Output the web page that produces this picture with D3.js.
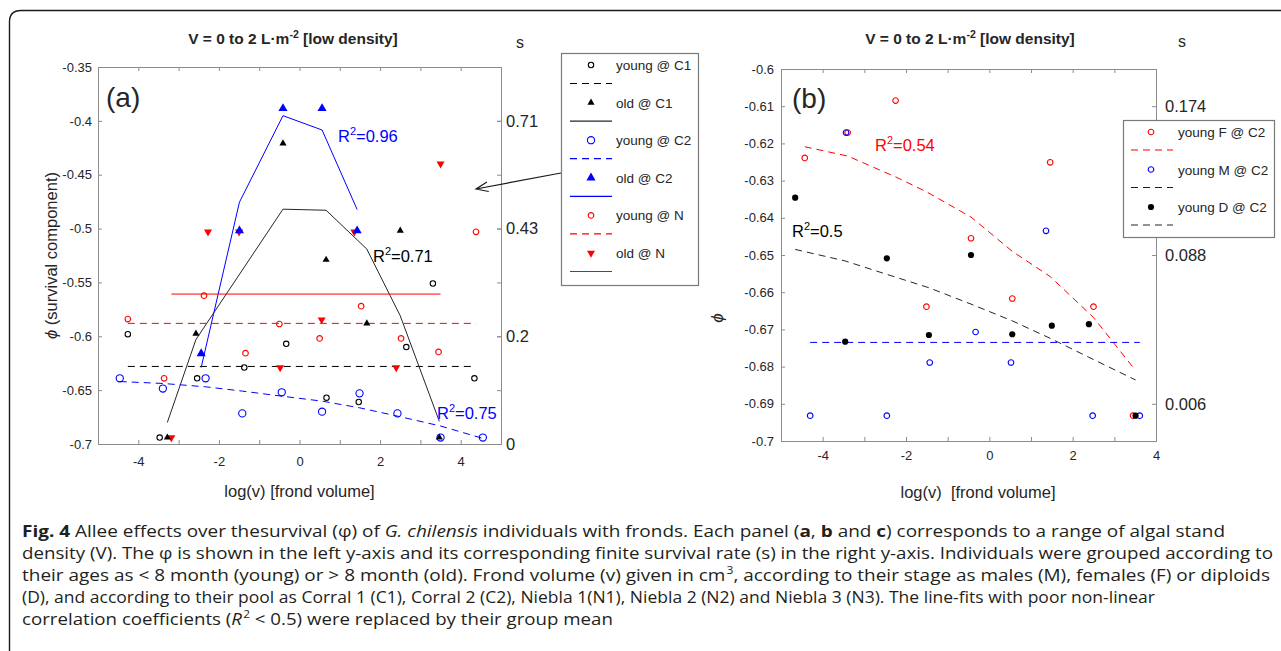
<!DOCTYPE html>
<html>
<head>
<meta charset="utf-8">
<script src="https://cdn.jsdelivr.net/npm/d3@7"></script>
<style>
  body { margin: 0; background: #fff; }
  svg text { font-family: "Liberation Sans", Arial, Helvetica, sans-serif; fill: #262626; }
  .axis path.domain { display: none; }
  .axis line { stroke: #8c8c8c; }
  .axis text { font-size: 13px; fill: #262626; }
  .saxis text { font-size: 16.5px; }
  svg text.caption { font-family: "Open Sans", "Noto Sans", sans-serif; fill: #231f20; }
</style>
</head>
<body>
<svg id="fig" width="1281" height="651"></svg>
<script>
  // ---- panel (a): V = 0 to 2, pools C1, C2, N ----
  const xTicksA = [-4, -3, -2, -1, 0, 1, 2, 3, 4];
  const xTickLabelsA = ["-4", "", "-2", "", "0", "", "2", "", "4"];
  const yTicksA = [-0.7, -0.65, -0.6, -0.55, -0.5, -0.45, -0.4, -0.35];
  const yTickLabelsA = ["-0.7", "-0.65", "-0.6", "-0.55", "-0.5", "-0.45", "-0.4", "-0.35"];
  const sTicksA = [-0.4, -0.5, -0.6, -0.7];
  const sLabelsA = ["0.71", "0.43", "0.2", "0"];

  const youngC1X = [-4.26, -3.47, -2.54, -1.37, -0.33, 0.67, 1.47, 2.65, 3.31, 4.34];
  const youngC1Phi = [-0.598, -0.694, -0.639, -0.629, -0.607, -0.657, -0.661, -0.610, -0.551, -0.639];
  const youngC1Mean = -0.628;

  const oldC1X = [-3.28, -2.57, -0.41, 0.66, 1.67, 2.50, 3.47];
  const oldC1Phi = [-0.694, -0.5975, -0.421, -0.529, -0.588, -0.502, -0.694];
  const oldC1Fit = [-0.680, -0.603, -0.482, -0.483, -0.519, -0.581, -0.679];

  const youngC2X = [-4.46, -3.39, -2.33, -1.42, -0.44, 0.56, 1.49, 2.43, 3.50, 4.55];
  const youngC2Phi = [-0.639, -0.6485, -0.639, -0.6716, -0.652, -0.670, -0.653, -0.6716, -0.694, -0.694];
  const youngC2Fit = [-0.642, -0.6438, -0.6469, -0.6509, -0.6556, -0.6602, -0.6664, -0.6741, -0.6833, -0.6948];

  const oldC2X = [-2.44, -1.49, -0.41, 0.56, 1.43];
  const oldC2Phi = [-0.616, -0.502, -0.3885, -0.3885, -0.502];
  const oldC2Fit = [-0.629, -0.4755, -0.3952, -0.4085, -0.4823];

  const youngNX = [-4.26, -3.36, -2.37, -1.34, -0.50, 0.50, 1.53, 2.52, 3.45, 4.38];
  const youngNPhi = [-0.584, -0.639, -0.5623, -0.6157, -0.5886, -0.602, -0.572, -0.602, -0.6145, -0.503];
  const youngNMean = -0.588;

  const oldNX = [-3.18, -2.27, -1.50, -0.48, 0.55, 1.36, 2.40, 3.50];
  const oldNPhi = [-0.694, -0.503, -0.503, -0.629, -0.5846, -0.503, -0.629, -0.440];
  const oldNMean = -0.5608;

  const legendLabelsA = ["young @ C1", "old @ C1", "young @ C2", "old @ C2", "young @ N", "old @ N"];
  const r2LabelsA = ["0.96", "0.71", "0.75"];

  // ---- panel (b): young stages at C2 ----
  const xTicksB = [-4, -3, -2, -1, 0, 1, 2, 3, 4];
  const xTickLabelsB = ["-4", "", "-2", "", "0", "", "2", "", "4"];
  const yTicksB = [-0.7, -0.69, -0.68, -0.67, -0.66, -0.65, -0.64, -0.63, -0.62, -0.61, -0.6];
  const yTickLabelsB = ["-0.7", "-0.69", "-0.68", "-0.67", "-0.66", "-0.65", "-0.64", "-0.63", "-0.62", "-0.61", "-0.6"];
  const sTicksB = [-0.61, -0.65, -0.69];
  const sLabelsB = ["0.174", "0.088", "0.006"];

  const youngFX = [-4.43, -3.40, -2.25, -1.51, -0.44, 0.55, 1.46, 2.50, 3.45];
  const youngFPhi = [-0.6239, -0.6171, -0.6085, -0.6639, -0.6455, -0.6617, -0.6251, -0.6639, -0.6932];
  const youngFFit = [-0.6209, -0.6234, -0.629, -0.633, -0.6398, -0.649, -0.6558, -0.6668, -0.6802];

  const youngMX = [-4.30, -3.44, -2.46, -1.43, -0.33, 0.52, 1.36, 2.48, 3.61];
  const youngMPhi = [-0.6932, -0.6171, -0.6932, -0.6789, -0.6707, -0.6789, -0.6435, -0.6932, -0.6932];
  const youngMMean = -0.6735;

  const youngDX = [-4.66, -3.46, -2.46, -1.45, -0.44, 0.55, 1.50, 2.39, 3.51];
  const youngDPhi = [-0.6346, -0.6733, -0.6509, -0.6715, -0.650, -0.6713, -0.669, -0.6686, -0.6932];
  const youngDFit = [-0.6485, -0.6516, -0.6552, -0.6588, -0.6632, -0.6677, -0.6726, -0.6775, -0.6836];

  const legendLabelsB = ["young F @ C2", "young M @ C2", "young D @ C2"];
  const r2LabelsB = ["0.54", "0.5"];

  const BLUE = "#0000ff", RED = "#ff0000", BLACK = "#000", FITGREY = "#262626";
  const DASH = "7,5";

  const svg = d3.select("#fig");

  // figure frame (rounded top-left corner, runs off the page)
  svg.append("path")
    .attr("d", "M9.5,651 L9.5,22 Q9.5,10.5 21,10.5 L1281,10.5")
    .attr("fill", "none").attr("stroke", "#1a1a1a").attr("stroke-width", 1.4);

  function makePanel(cfg) {
    const x = d3.scaleLinear().domain(cfg.xDomain).range([cfg.left, cfg.right]);
    const y = d3.scaleLinear().domain(cfg.yDomain).range([cfg.bottom, cfg.top]);
    const g = svg.append("g");

    g.append("g").attr("class", "axis")
      .attr("transform", "translate(0," + cfg.bottom + ")")
      .call(d3.axisBottom(x).tickValues(cfg.xTicks)
        .tickFormat((d, i) => cfg.xTickLabels[i])
        .tickSizeInner(-4).tickSizeOuter(0).tickPadding(cfg.xPad));

    g.append("g").attr("class", "axis")
      .attr("transform", "translate(0," + cfg.top + ")")
      .call(d3.axisTop(x).tickValues(cfg.xTicks).tickFormat("")
        .tickSizeInner(-4).tickSizeOuter(0));

    g.append("g").attr("class", "axis")
      .attr("transform", "translate(" + cfg.left + ",0)")
      .call(d3.axisLeft(y).tickValues(cfg.yTicks)
        .tickFormat((d, i) => cfg.yTickLabels[i])
        .tickSizeInner(-4).tickSizeOuter(0).tickPadding(cfg.yPad));

    if (cfg.mirrorY) {
      g.append("g").attr("class", "axis")
        .attr("transform", "translate(" + cfg.right + ",0)")
        .call(d3.axisRight(y).tickValues(cfg.yTicks).tickFormat("")
          .tickSizeInner(-4).tickSizeOuter(0));
    }

    g.append("g").attr("class", "axis saxis")
      .attr("transform", "translate(" + cfg.right + ",0)")
      .call(d3.axisRight(y).tickValues(cfg.sTicks)
        .tickFormat((d, i) => cfg.sLabels[i])
        .tickSizeInner(-4).tickSizeOuter(0).tickPadding(cfg.sPad));

    g.append("rect")
      .attr("x", cfg.left + 0.5).attr("y", cfg.top + 0.5)
      .attr("width", cfg.right - cfg.left).attr("height", cfg.bottom - cfg.top)
      .attr("fill", "none").attr("stroke", "#8c8c8c");

    const plot = g.append("g");
    return { x: x, y: y, g: g, plot: plot };
  }

  function markerPath(st) {
    if (st.shape === "tri") return d3.symbol(d3.symbolTriangle, st.size)();
    return d3.symbol(d3.symbolCircle, Math.PI * st.r * st.r)();
  }

  function styleMarker(sel, st) {
    sel.attr("d", markerPath(st))
      .attr("fill", st.filled ? st.color : "none")
      .attr("stroke", st.filled ? "none" : st.color)
      .attr("stroke-width", 1.1);
  }

  function drawMarkers(p, xs, ys, st) {
    p.plot.append("g").selectAll("path").data(xs).join("path")
      .call(styleMarker, st)
      .attr("transform", (d, i) => "translate(" + p.x(d) + "," + p.y(ys[i]) + ")" + (st.down ? " rotate(180)" : ""));
  }

  function drawLine(p, xs, ys, color, dash) {
    const line = d3.line().x(d => p.x(d[0])).y(d => p.y(d[1]));
    p.plot.append("path")
      .attr("d", line(xs.map((d, i) => [d, ys[i]])))
      .attr("fill", "none").attr("stroke", color).attr("stroke-width", 1)
      .attr("stroke-dasharray", dash || null);
  }

  function drawMean(p, xs, level, color, dash) {
    const ext = d3.extent(xs);
    drawLine(p, ext, [level, level], color, dash);
  }

  function r2Label(x, y, value, color) {
    const t = svg.append("text").attr("x", x).attr("y", y)
      .attr("font-size", 16.5).style("fill", color);
    t.append("tspan").text("R");
    t.append("tspan").attr("dy", -7).attr("font-size", 11).text("2");
    t.append("tspan").attr("dy", 7).text("=" + value);
  }

  function legend(box, rows, rowStep) {
    const g = svg.append("g");
    g.append("rect").attr("x", box.x + 0.5).attr("y", box.y + 0.5)
      .attr("width", box.w).attr("height", box.h)
      .attr("fill", "#fff").attr("stroke", "#7a7a7a").attr("stroke-width", 1.2);
    rows.forEach((r, i) => {
      const my = box.y + box.firstRow + i * rowStep;
      g.append("path").call(styleMarker, r.st)
        .attr("transform", "translate(" + (box.x + box.markerX) + "," + my + ")" + (r.st.down ? " rotate(180)" : ""));
      g.append("text").attr("x", box.x + box.textX).attr("y", my + 5)
        .attr("font-size", 13.5).text(r.label);
      g.append("line")
        .attr("x1", box.x + box.lineX0).attr("x2", box.x + box.lineX1)
        .attr("y1", my + box.lineDy).attr("y2", my + box.lineDy)
        .attr("stroke", r.lineColor).attr("stroke-width", 1.2)
        .attr("stroke-dasharray", r.dash || null);
    });
  }

  // marker styles
  const stYoungC1 = { shape: "circle", r: 2.7, color: BLACK };
  const stOldC1 = { shape: "tri", size: 22, color: BLACK, filled: true };
  const stYoungC2 = { shape: "circle", r: 3.6, color: BLUE };
  const stOldC2 = { shape: "tri", size: 36, color: BLUE, filled: true };
  const stYoungN = { shape: "circle", r: 2.8, color: RED };
  const stOldN = { shape: "tri", size: 28, color: RED, filled: true, down: true };
  const stYoungF = { shape: "circle", r: 2.8, color: RED };
  const stYoungM = { shape: "circle", r: 2.8, color: BLUE };
  const stYoungD = { shape: "circle", r: 3.1, color: BLACK, filled: true };

  // ================= panel (a) =================
  const pa = makePanel({
    left: 98, right: 501, top: 67, bottom: 444,
    xDomain: [-5, 5], yDomain: [-0.7, -0.35],
    xTicks: xTicksA, xTickLabels: xTickLabelsA,
    yTicks: yTicksA, yTickLabels: yTickLabelsA,
    sTicks: sTicksA, sLabels: sLabelsA,
    xPad: 13, yPad: 6, sPad: 5, mirrorY: true
  });

  drawMean(pa, youngC1X, youngC1Mean, BLACK, DASH);
  drawLine(pa, oldC1X, oldC1Fit, FITGREY);
  drawLine(pa, youngC2X, youngC2Fit, BLUE, DASH);
  drawLine(pa, oldC2X, oldC2Fit, BLUE);
  drawMean(pa, youngNX, youngNMean, RED, DASH);
  drawMean(pa, oldNX, oldNMean, RED);

  drawMarkers(pa, youngC1X, youngC1Phi, stYoungC1);
  drawMarkers(pa, youngC2X, youngC2Phi, stYoungC2);
  drawMarkers(pa, youngNX, youngNPhi, stYoungN);
  drawMarkers(pa, oldNX, oldNPhi, stOldN);
  drawMarkers(pa, oldC2X, oldC2Phi, stOldC2);
  drawMarkers(pa, oldC1X, oldC1Phi, stOldC1);

  svg.append("text").attr("x", 293).attr("y", 44).attr("text-anchor", "middle")
    .attr("font-size", 15.5).attr("font-weight", "bold")
    .call(t => {
      t.append("tspan").text("V = 0 to 2 L\u00b7m");
      t.append("tspan").attr("dy", -6).attr("font-size", 10.5).text("-2");
      t.append("tspan").attr("dy", 6).text(" [low density]");
    });
  svg.append("text").attr("x", 520).attr("y", 48).attr("text-anchor", "middle")
    .attr("font-size", 16).text("s");
  svg.append("text").attr("x", 106).attr("y", 107).attr("font-size", 28).text("(a)");
  svg.append("text").attr("transform", "translate(57,255.5) rotate(-90)")
    .attr("text-anchor", "middle").attr("font-size", 16.5)
    .call(t => {
      t.append("tspan").attr("font-style", "italic").text("\u03d5");
      t.append("tspan").text(" (survival component)");
    });
  svg.append("text").attr("x", pa.x(0)).attr("y", 497).attr("text-anchor", "middle")
    .attr("font-size", 16.5).text("log(v) [frond volume]");

  r2Label(338, 142, r2LabelsA[0], BLUE);
  r2Label(373, 262, r2LabelsA[1], BLACK);
  r2Label(437, 419, r2LabelsA[2], BLUE);

  legend({ x: 561, y: 53, w: 137, h: 232, firstRow: 12, markerX: 30, textX: 55, lineX0: 9, lineX1: 51, lineDy: 18.5 }, [
    { label: legendLabelsA[0], st: stYoungC1, lineColor: BLACK, dash: DASH },
    { label: legendLabelsA[1], st: stOldC1, lineColor: FITGREY },
    { label: legendLabelsA[2], st: stYoungC2, lineColor: BLUE, dash: DASH },
    { label: legendLabelsA[3], st: stOldC2, lineColor: BLUE },
    { label: legendLabelsA[4], st: stYoungN, lineColor: RED, dash: DASH },
    { label: legendLabelsA[5], st: stOldN, lineColor: RED }
  ], 37.6);

  // arrow from legend into panel (a)
  (function () {
    const x0 = 561, y0 = 173, x1 = 476, y1 = 189;
    const ang = Math.atan2(y0 - y1, x0 - x1), len = 13, spread = 0.38;
    const h1 = [x1 + len * Math.cos(ang + spread), y1 + len * Math.sin(ang + spread)];
    const h2 = [x1 + len * Math.cos(ang - spread), y1 + len * Math.sin(ang - spread)];
    svg.append("path")
      .attr("d", "M" + x0 + "," + y0 + "L" + x1 + "," + y1 + "M" + h1 + "L" + x1 + "," + y1 + "L" + h2)
      .attr("fill", "none").attr("stroke", "#1a1a1a").attr("stroke-width", 1.2);
  })();

  // ================= panel (b) =================
  const pb = makePanel({
    left: 781, right: 1156, top: 69, bottom: 441,
    xDomain: [-5, 4], yDomain: [-0.7, -0.6],
    xTicks: xTicksB, xTickLabels: xTickLabelsB,
    yTicks: yTicksB, yTickLabels: yTickLabelsB,
    sTicks: sTicksB, sLabels: sLabelsB,
    xPad: 10, yPad: 7, sPad: 9, mirrorY: false
  });

  drawLine(pb, youngFX, youngFFit, RED, DASH);
  drawMean(pb, youngMX, youngMMean, BLUE, DASH);
  drawLine(pb, youngDX, youngDFit, FITGREY, DASH);

  drawMarkers(pb, youngFX, youngFPhi, stYoungF);
  drawMarkers(pb, youngMX, youngMPhi, stYoungM);
  drawMarkers(pb, youngDX, youngDPhi, stYoungD);

  svg.append("text").attr("x", 970).attr("y", 44).attr("text-anchor", "middle")
    .attr("font-size", 15.5).attr("font-weight", "bold")
    .call(t => {
      t.append("tspan").text("V = 0 to 2 L\u00b7m");
      t.append("tspan").attr("dy", -6).attr("font-size", 10.5).text("-2");
      t.append("tspan").attr("dy", 6).text(" [low density]");
    });
  svg.append("text").attr("x", 1182).attr("y", 47).attr("text-anchor", "middle")
    .attr("font-size", 16).text("s");
  svg.append("text").attr("x", 792).attr("y", 108).attr("font-size", 28).text("(b)");
  svg.append("text").attr("transform", "translate(723,318) rotate(-90)")
    .attr("text-anchor", "middle").attr("font-size", 17).attr("font-style", "italic")
    .text("\u03d5");
  svg.append("text").attr("x", 978).attr("y", 498).attr("text-anchor", "middle")
    .attr("font-size", 16.5).style("white-space", "pre").text("log(v)  [frond volume]");

  r2Label(875, 151, r2LabelsB[0], RED);
  r2Label(792, 237, r2LabelsB[1], BLACK);

  legend({ x: 1123, y: 120, w: 151, h: 117, firstRow: 12, markerX: 28, textX: 55, lineX0: 8, lineX1: 50, lineDy: 18 }, [
    { label: legendLabelsB[0], st: stYoungF, lineColor: RED, dash: DASH },
    { label: legendLabelsB[1], st: stYoungM, lineColor: BLUE, dash: DASH },
    { label: legendLabelsB[2], st: stYoungD, lineColor: FITGREY, dash: DASH }
  ], 37.5);

  // ================= caption =================
  const captionLines = [
    [["Fig. 4", "b"], [" Allee effects over thesurvival (\u03c6) of ", ""], ["G. chilensis", "i"],
     [" individuals with fronds. Each panel (", ""], ["a", "b"], [", ", ""], ["b", "b"], [" and ", ""], ["c", "b"],
     [") corresponds to a range of algal stand", ""]],
    [["density (V). The \u03c6 is shown in the left y-axis and its corresponding finite survival rate (s) in the right y-axis. Individuals were grouped according to", ""]],
    [["their ages as < 8 month (young) or > 8 month (old). Frond volume (v) given in cm", ""], ["3", "sup"],
     [", according to their stage as males (M), females (F) or diploids", ""]],
    [["(D), and according to their pool as Corral 1 (C1), Corral 2 (C2), Niebla 1(N1), Niebla 2 (N2) and Niebla 3 (N3). The line-fits with poor non-linear", ""]],
    [["correlation coefficients (", ""], ["R", "i"], ["2", "sup"], [" < 0.5) were replaced by their group mean", ""]]
  ];
  // right ends of the wrapped caption lines (last line follows the same stretch)
  const captionEnds = [1225, 1273, 1270, 1155, null];

  const captionTexts = captionLines.map((parts, li) => {
    const t = svg.append("text").attr("class", "caption")
      .attr("x", 22).attr("y", 537 + li * 22)
      .attr("font-size", 15.8)
      .style("white-space", "pre");
    let shifted = false;
    parts.forEach(p => {
      const s = t.append("tspan").text(p[0]);
      if (p[1] === "b") s.attr("font-weight", "bold");
      if (p[1] === "i") s.attr("font-style", "italic");
      if (p[1] === "sup") { s.attr("dy", -7).attr("dx", 1).attr("font-size", 10); shifted = true; }
      else if (shifted) { s.attr("dy", 7); shifted = false; }
    });
    return t;
  });
  // the source face is narrower and taller than Open Sans: widen glyphs uniformly
  const stretch = (captionEnds[1] - 22) / captionTexts[1].node().getComputedTextLength();
  captionTexts.forEach((t, li) => {
    const target = captionEnds[li] ? captionEnds[li] - 22 : t.node().getComputedTextLength() * stretch;
    t.attr("textLength", target).attr("lengthAdjust", "spacingAndGlyphs");
  });
</script>
</body>
</html>
